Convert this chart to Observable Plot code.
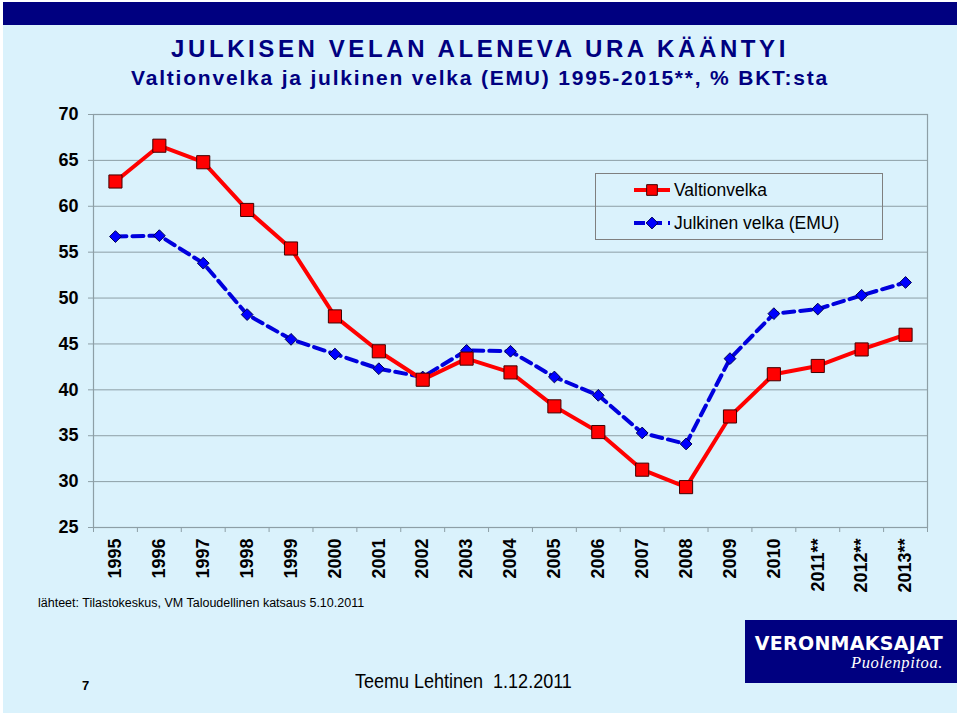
<!DOCTYPE html>
<html>
<head>
<meta charset="utf-8">
<script src="https://cdn.jsdelivr.net/npm/d3@7"></script>
<script src="https://cdn.jsdelivr.net/npm/@observablehq/plot@0.6"></script>
<style>
  html, body { margin: 0; padding: 0; background: #ffffff; }
  #page { position: relative; width: 960px; height: 716px; overflow: hidden; font-family: "Liberation Sans", Arial, sans-serif; }
  #bg { position: absolute; left: 3px; top: 2px; width: 954px; height: 711px; background: #daf2fc; }
  #band { position: absolute; left: 3px; top: 2px; width: 954px; height: 23px; background: #000080; }
  .title { position: absolute; left: 0; width: 960px; text-align: center; color: #000080; font-weight: bold; white-space: nowrap; }
  #t1 { top: 35px; font-size: 24px; letter-spacing: 3.6px; }
  #t2 { top: 66px; font-size: 21px; letter-spacing: 1.8px; }
  #chart { position: absolute; left: 0; top: 100px; }
  #legend { position: absolute; left: 595px; top: 173px; }
  #caption { position: absolute; left: 38px; top: 596px; font-size: 12.5px; color: #000; }
  #pnum { position: absolute; left: 82px; top: 678px; font-size: 13px; font-weight: bold; color: #000; }
  #author { position: absolute; left: 355px; top: 670px; font-size: 20px; color: #000; transform: scaleX(0.9); transform-origin: left top; white-space: nowrap; }
  #logo { position: absolute; left: 745px; top: 620px; width: 212px; height: 63px; background: #000080; color: #fff; }
  #logo1 { position: absolute; right: 14px; top: 12px; font-size: 19px; font-weight: bold; letter-spacing: 0.3px; font-family: "DejaVu Sans", "Liberation Sans", sans-serif; }
  #logo2 { position: absolute; right: 14px; top: 33px; font-size: 16.5px; font-style: italic; font-family: "Liberation Serif", "DejaVu Serif", serif; letter-spacing: 0.6px; }
</style>
</head>
<body>
<div id="page">
  <div id="bg"></div>
  <div id="band"></div>
  <div class="title" id="t1">JULKISEN VELAN ALENEVA URA KÄÄNTYI</div>
  <div class="title" id="t2">Valtionvelka ja julkinen velka (EMU) 1995-2015**, % BKT:sta</div>
  <div id="chart"></div>
  <div id="legend"></div>
  <div id="caption">lähteet: Tilastokeskus, VM Taloudellinen katsaus 5.10.2011</div>
  <div id="pnum">7</div>
  <div id="author">Teemu Lehtinen&nbsp; 1.12.2011</div>
  <div id="logo"><div id="logo1">VERONMAKSAJAT</div><div id="logo2">Puolenpitoa.</div></div>
</div>
<script>
// ---- data ----
const years = ["1995","1996","1997","1998","1999","2000","2001","2002","2003","2004","2005","2006","2007","2008","2009","2010","2011**","2012**","2013**"];
const valtionvelka = [62.7,66.6,64.8,59.6,55.4,48.0,44.2,41.1,43.4,41.9,38.2,35.4,31.3,29.4,37.1,41.7,42.6,44.4,46.0];
const julkinenVelka = [56.7,56.8,53.8,48.2,45.5,43.9,42.3,41.4,44.3,44.2,41.4,39.4,35.3,34.1,43.4,48.3,48.8,50.3,51.7];
const yTicks = [25,30,35,40,45,50,55,60,65,70];
const seriesNames = ["Valtionvelka", "Julkinen velka (EMU)"];

const valtioData = years.map((y, i) => ({year: y, value: valtionvelka[i]}));
const emuData = years.map((y, i) => ({year: y, value: julkinenVelka[i]}));

// ---- styles ----
const RED = "#ff0000", BLUE = "#0000dd", GRID = "#8d9fa6";
const W = 960, H = 520, ML = 93, MR = 33, MT = 14, MB = 93;
const bw = (W - ML - MR) / years.length;

const chart = Plot.plot({
  width: W, height: H,
  marginLeft: ML, marginRight: MR, marginTop: MT, marginBottom: MB,
  style: {background: "transparent", fontFamily: "'Liberation Sans', Arial, sans-serif", overflow: "visible"},
  x: {type: "band", domain: years, padding: 0, round: false, label: null},
  y: {domain: [25, 70], label: null},
  marks: [
    Plot.gridY({ticks: yTicks, stroke: GRID, strokeOpacity: 1, strokeWidth: 1}),
    Plot.frame({stroke: GRID, strokeWidth: 1.2}),
    Plot.axisY({ticks: yTicks, tickSize: 5, tickPadding: 10, stroke: GRID, strokeOpacity: 1,
      fontSize: 18, fontWeight: "bold", fill: "#000", label: null}),
    // tick marks at band boundaries
    Plot.axisX({ticks: years, tickSize: 5, tickFormat: () => "", dx: -bw / 2, stroke: GRID, strokeOpacity: 1, label: null}),
    Plot.axisX({ticks: [years[years.length - 1]], tickSize: 5, tickFormat: () => "", dx: bw / 2, stroke: GRID, strokeOpacity: 1, label: null}),
    // rotated year labels
    Plot.axisX({ticks: years, tickSize: 0, tickPadding: 11, tickRotate: -90,
      fontSize: 18, fontWeight: "bold", fill: "#000", label: null}),
    Plot.line(emuData, {x: "year", y: "value", stroke: BLUE, strokeWidth: 4, strokeDasharray: "11,6"}),
    Plot.line(valtioData, {x: "year", y: "value", stroke: RED, strokeWidth: 4}),
    Plot.dot(emuData, {x: "year", y: "value", symbol: "diamond2", r: 5.3, fill: "#0000ff", stroke: "#000050", strokeWidth: 1}),
    Plot.dot(valtioData, {x: "year", y: "value", symbol: "square", r: 7.4, fill: RED, stroke: "#400000", strokeWidth: 1})
  ]
});
document.getElementById("chart").appendChild(chart);

// ---- legend ----
const lg = d3.select("#legend").append("svg").attr("width", 288).attr("height", 67);
lg.append("rect").attr("x", 0.5).attr("y", 0.5).attr("width", 287).attr("height", 66)
  .attr("fill", "none").attr("stroke", "#7f7f7f");
const rows = [
  {name: seriesNames[0], color: RED, dash: null, sym: d3.symbolSquare, size: 7.2 * 7.2 * Math.PI * 0.7, fill: RED, st: "#400000"},
  {name: seriesNames[1], color: BLUE, dash: "11,6", sym: d3.symbolDiamond2, size: 5.3 * 5.3 * Math.PI, fill: "#0000ff", st: "#000050"}
];
rows.forEach((r, i) => {
  const cy = 17 + i * 33;
  lg.append("line").attr("x1", 39).attr("x2", 75).attr("y1", cy).attr("y2", cy)
    .attr("stroke", r.color).attr("stroke-width", 4).attr("stroke-dasharray", r.dash);
  lg.append("path").attr("d", d3.symbol(r.sym, r.size)()).attr("transform", `translate(57,${cy})`)
    .attr("fill", r.fill).attr("stroke", r.st);
  lg.append("text").attr("x", 79).attr("y", cy + 6).attr("font-size", 17.5)
    .attr("font-family", "'Liberation Sans', Arial, sans-serif").attr("fill", "#000").text(r.name);
});
</script>
</body>
</html>
